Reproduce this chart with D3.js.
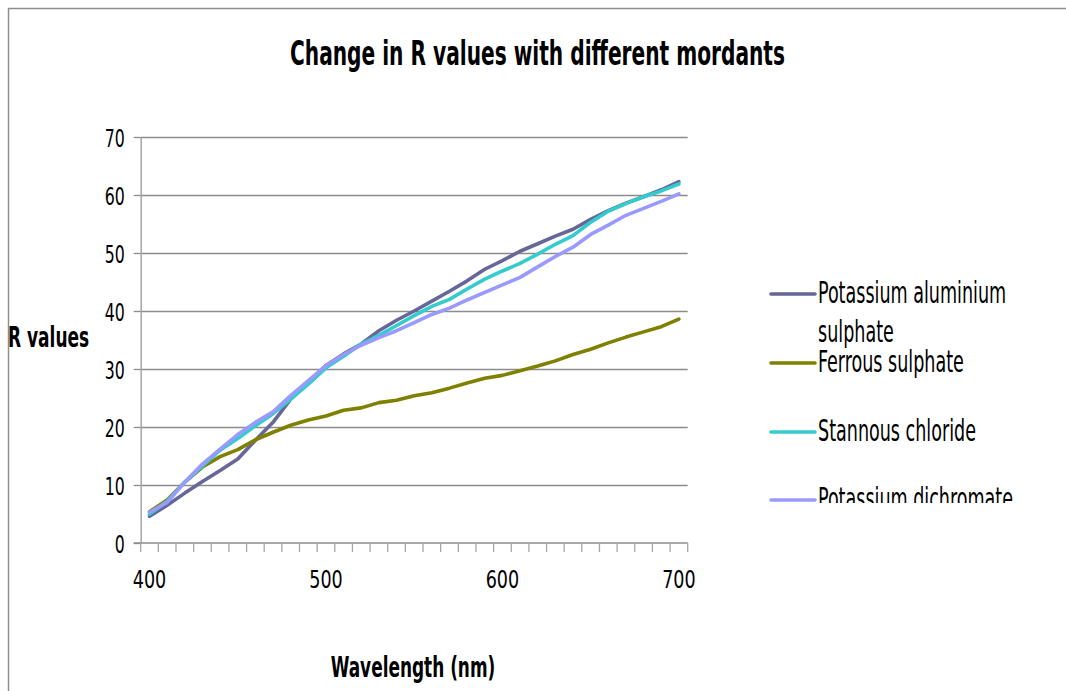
<!DOCTYPE html>
<html>
<head>
<meta charset="utf-8">
<script src="https://cdn.jsdelivr.net/npm/d3@7"></script>
<style>
  body { margin: 0; background: #fff; }
  text { font-family: "Liberation Sans Narrow", "Arial Narrow", "DejaVu Sans Condensed", sans-serif; fill: #000; }
</style>
</head>
<body>
<div id="chart"></div>
<script>
// wavelengths (nm), one category per 10 nm
var wavelengths = d3.range(400, 701, 10).map(String);
var xLabels = ["400", "500", "600", "700"];
var yTicks = [0, 10, 20, 30, 40, 50, 60, 70];

var seriesNames = ["Potassium aluminium sulphate", "Ferrous sulphate", "Stannous chloride", "Potassium dichromate"];

var alumValues = [4.6, 6.5, 8.6, 10.6, 12.5, 14.5, 17.7, 20.8, 24.8, 27.8, 30.6, 32.6, 34.3, 36.6, 38.4, 40.0,
  41.7, 43.4, 45.2, 47.2, 48.7, 50.3, 51.6, 52.9, 54.1, 55.8, 57.3, 58.6, 59.7, 60.9, 62.3];
var ferrousValues = [5.4, 7.4, 10.5, 13.1, 14.9, 16.1, 17.8, 19.1, 20.3, 21.2, 21.9, 22.9, 23.3, 24.2, 24.6, 25.4,
  25.9, 26.7, 27.6, 28.4, 28.9, 29.7, 30.5, 31.4, 32.5, 33.4, 34.5, 35.5, 36.4, 37.3, 38.6];
var stannousValues = [5.0, 7.2, 10.5, 13.3, 16.0, 18.0, 20.2, 22.3, 24.8, 27.4, 30.2, 32.2, 34.3, 35.8, 37.5, 39.2,
  40.8, 42.0, 43.8, 45.5, 46.9, 48.2, 49.8, 51.5, 53.0, 55.3, 57.2, 58.5, 59.7, 60.7, 61.9];
var dichromateValues = [5.3, 7.0, 10.5, 13.6, 16.2, 18.7, 20.8, 22.6, 25.4, 28.0, 30.6, 32.5, 34.1, 35.4, 36.6, 38.0,
  39.4, 40.5, 41.9, 43.2, 44.5, 45.8, 47.6, 49.4, 51.0, 53.2, 54.8, 56.5, 57.7, 58.9, 60.2];

var colors = ["#666699", "#808000", "#33CCCC", "#9999FF"];

var W = 1066, H = 691;
var plotLeft = 140.7, plotRight = 687.7, plotTop = 137, plotBottom = 543;

var svg = d3.select("#chart").append("svg")
    .attr("width", W)
    .attr("height", H);

// squeeze text horizontally like the narrow original font
function squeeze(sel, k) {
    sel.each(function () {
        var w = this.getComputedTextLength();
        d3.select(this).attr("textLength", w * k).attr("lengthAdjust", "spacingAndGlyphs");
    });
}

// outer chart border
svg.append("rect")
    .attr("x", 8.5).attr("y", 8.5)
    .attr("width", 1200).attr("height", 800)
    .attr("fill", "none")
    .attr("stroke", "#8e8e8e")
    .attr("stroke-width", 1.5);

var x = d3.scaleBand()
    .domain(wavelengths)
    .range([plotLeft, plotRight])
    .paddingInner(0).paddingOuter(0);

var y = d3.scaleLinear()
    .domain([0, 70])
    .range([plotBottom, plotTop]);

// gridlines
svg.append("g")
    .attr("class", "grid")
    .attr("transform", "translate(" + plotLeft + ",0)")
    .call(d3.axisLeft(y).tickValues(yTicks.slice(1)).tickSize(-(plotRight - plotLeft)).tickFormat(""))
    .call(function (g) { g.select(".domain").remove(); })
    .selectAll("line")
    .attr("stroke", "#8c8c8c")
    .attr("stroke-width", 1.3);

// y axis
var yAxis = svg.append("g")
    .attr("class", "axis axis-y")
    .attr("transform", "translate(" + plotLeft + ",0)")
    .call(d3.axisLeft(y).tickValues(yTicks).tickSize(7).tickSizeOuter(0).tickPadding(9));
yAxis.select(".domain").attr("stroke", "#a6a6a6").attr("stroke-width", 1.5);
yAxis.selectAll("line").attr("stroke", "#8c8c8c").attr("stroke-width", 1.3);
yAxis.selectAll("text")
    .attr("font-family", null)
    .attr("font-size", null)
    .style("font-size", "25px")
    .attr("dy", "0.36em")
    .call(squeeze, 0.7);

// x axis line and category boundary ticks
var bounds = wavelengths.map(function (d) { return x(d); }).concat([x.range()[1]]);
svg.append("line")
    .attr("x1", plotLeft - 7).attr("x2", plotRight)
    .attr("y1", plotBottom).attr("y2", plotBottom)
    .attr("stroke", "#8c8c8c").attr("stroke-width", 1.3);
svg.append("g")
    .attr("class", "axis axis-x")
    .selectAll("line")
    .data(bounds)
    .enter().append("line")
    .attr("x1", function (d) { return d; })
    .attr("x2", function (d) { return d; })
    .attr("y1", plotBottom)
    .attr("y2", plotBottom + 9)
    .attr("stroke", "#a6a6a6")
    .attr("stroke-width", 1.3);

var xAxis = svg.append("g")
    .attr("class", "axis axis-x")
    .attr("transform", "translate(0," + plotBottom + ")")
    .call(d3.axisBottom(x).tickValues(xLabels).tickSize(0).tickPadding(36));
xAxis.select(".domain").remove();
xAxis.selectAll("text")
    .attr("font-family", null)
    .attr("font-size", null)
    .style("font-size", "25px")
    .attr("dy", "0.36em")
    .call(squeeze, 0.78);

// lines
var allValues = [alumValues, ferrousValues, stannousValues, dichromateValues];
var line = d3.line()
    .x(function (d, i) { return x(wavelengths[i]) + x.bandwidth() / 2; })
    .y(function (d) { return y(d); });

svg.append("g")
    .selectAll("path")
    .data(allValues)
    .enter().append("path")
    .attr("d", line)
    .attr("fill", "none")
    .attr("stroke", function (d, i) { return colors[i]; })
    .attr("stroke-width", 3.6)
    .attr("stroke-linejoin", "round")
    .attr("stroke-linecap", "round");

// title
svg.append("text")
    .attr("x", 537.5).attr("y", 65)
    .attr("text-anchor", "middle")
    .style("font-size", "34px")
    .style("font-weight", "bold")
    .attr("textLength", 495)
    .attr("lengthAdjust", "spacingAndGlyphs")
    .text("Change in R values with different mordants");

// axis titles
svg.append("text")
    .attr("x", 8).attr("y", 347)
    .style("font-size", "28px")
    .style("font-weight", "bold")
    .text("R values")
    .call(squeeze, 0.675);

svg.append("text")
    .attr("x", 413).attr("y", 677)
    .attr("text-anchor", "middle")
    .style("font-size", "28px")
    .style("font-weight", "bold")
    .text("Wavelength (nm)")
    .call(squeeze, 0.672);

// legend (clipped at the bottom as in the original)
svg.append("clipPath").attr("id", "legendClip")
    .append("rect").attr("x", 760).attr("y", 260).attr("width", 300).attr("height", 243);

var legend = svg.append("g").attr("clip-path", "url(#legendClip)");
var legendY = [294, 363, 432, 500];
var legendLines = [["Potassium aluminium", "sulphate"], ["Ferrous sulphate"], ["Stannous chloride"], ["Potassium dichromate"]];

legendLines.forEach(function (rows, i) {
    legend.append("line")
        .attr("x1", 771).attr("x2", 815)
        .attr("y1", legendY[i]).attr("y2", legendY[i])
        .attr("stroke", colors[i])
        .attr("stroke-width", 3.6)
        .attr("stroke-linecap", "round");
    rows.forEach(function (r, j) {
        legend.append("text")
            .attr("x", 818)
            .attr("y", legendY[i] + 9 + j * 38.7)
            .style("font-size", "30px")
            .text(r)
            .call(squeeze, 0.65);
    });
});
</script>
</body>
</html>
